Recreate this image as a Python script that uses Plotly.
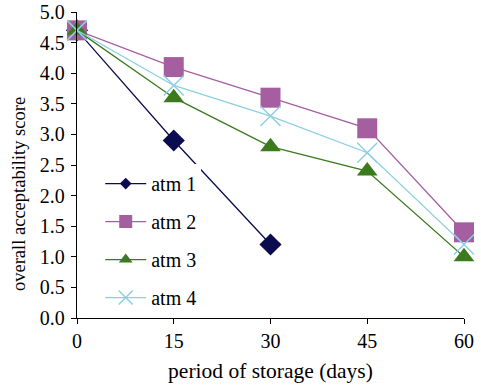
import plotly.graph_objects as go

days = [0, 15, 30, 45, 60]
atm1 = [4.7, 2.9, 1.2]
atm2 = [4.7, 4.1, 3.6, 3.1, 1.4]
atm3 = [4.7, 3.6, 2.8, 2.4, 1.0]
atm4 = [4.7, 3.8, 3.3, 2.7, 1.2]
names = ["atm 1", "atm 2", "atm 3", "atm 4"]
colors = ["#0b0b4f", "#a55fa0", "#3c7a1e", "#8ccfe2"]
symbols = ["diamond", "square", "triangle-up", "x-thin"]
sizes = [17, 20, 18, 20]
legend_sizes = [9, 13, 12, 14]
x_title = "period of storage (days)"
y_title = "overall acceptability score"

fig = go.Figure()
for i, ys in enumerate([atm1, atm2, atm3, atm4]):
    sym = symbols[i]
    marker = dict(symbol=sym, size=sizes[i], color=colors[i])
    if sym == "x-thin":
        marker["line"] = dict(color=colors[i], width=1.5)
    fig.add_trace(go.Scatter(
        x=days[:len(ys)], y=ys, name=names[i], mode="lines+markers",
        line=dict(color=colors[i], width=1.3), marker=marker,
        cliponaxis=False, showlegend=False))

# legend-only entries with smaller symbols, as in the reference
for i in range(4):
    sym = symbols[i]
    marker = dict(symbol=sym, size=legend_sizes[i], color=colors[i])
    if sym == "x-thin":
        marker["line"] = dict(color=colors[i], width=1.5)
    fig.add_trace(go.Scatter(
        x=[None], y=[None], name=names[i], mode="lines+markers",
        line=dict(color=colors[i], width=1.3), marker=marker,
        legendgroup=names[i], showlegend=True))

font = "Liberation Serif, Times New Roman, serif"
fig.update_layout(
    width=481, height=387,
    margin=dict(l=77, r=17, t=12, b=69),
    paper_bgcolor="white", plot_bgcolor="white",
    font=dict(family=font, size=20, color="black"),
    showlegend=True,
    legend=dict(x=0.06, y=0.503, xanchor="left", yanchor="top",
                bgcolor="rgba(255,255,255,1)", borderwidth=0,
                font=dict(family=font, size=20), tracegroupgap=9,
                traceorder="grouped", itemwidth=41),
    xaxis=dict(range=[0, 60], tickvals=days, ticktext=[str(d) for d in days],
               showgrid=False, zeroline=False, showline=True, linecolor="black",
               linewidth=1.3, ticks="outside", ticklen=5, tickcolor="black",
               automargin=False,
               title=dict(text=x_title, standoff=11, font=dict(size=21.5))),
    yaxis=dict(range=[0, 5], dtick=0.5, tickformat=".1f",
               showgrid=False, zeroline=False, showline=True, linecolor="black",
               linewidth=1.3, ticks="outside", ticklen=5, tickcolor="black",
               automargin=False, ticklabelstandoff=2),
    annotations=[dict(text=y_title, textangle=-90, xref="paper", yref="paper",
                      x=-0.150, y=0.405, xanchor="center", yanchor="middle",
                      showarrow=False, font=dict(family=font, size=18.5))],
)
fig.write_html("out.html", config={"displayModeBar": False},
               post_script="document.body.style.margin='0';")
